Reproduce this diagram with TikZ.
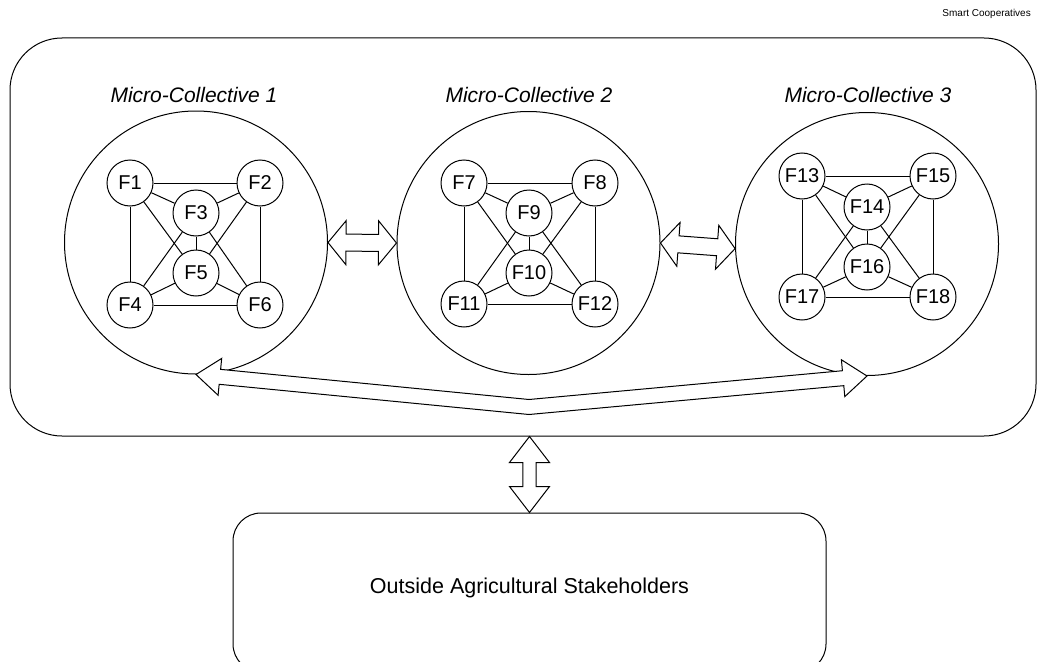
\documentclass[tikz,border=0pt]{standalone}
\usepackage{fontspec}
\setmainfont{Liberation Sans}
\usetikzlibrary{calc}

% Straight double-headed block arrow between two named points:
% #1, #2 tips; #3 head length; #4 head half-width; #5 shaft half-width
\newcommand{\dblblockarrow}[5]{%
  \draw[blockarrow] (#1)
    -- ($(#1)!#3!(#2)!#4!90:(#2)$)
    -- ($(#1)!#3!(#2)!#5!90:(#2)$)
    -- ($(#2)!#3!(#1)!#5!-90:(#1)$)
    -- ($(#2)!#3!(#1)!#4!-90:(#1)$)
    -- (#2)
    -- ($(#2)!#3!(#1)!#4!90:(#1)$)
    -- ($(#2)!#3!(#1)!#5!90:(#1)$)
    -- ($(#1)!#3!(#2)!#5!-90:(#2)$)
    -- ($(#1)!#3!(#2)!#4!-90:(#2)$)
    -- cycle;}

\begin{document}
\begin{tikzpicture}[x=1pt,y=-1pt,
  farmer/.style={circle, draw, line width=1pt, minimum size=46pt, inner sep=0pt,
    font=\fontsize{20}{22}\selectfont},
  ring/.style={circle, draw, line width=1pt, minimum size=263pt, inner sep=0pt},
  ringlabel/.style={font=\fontsize{21}{23}\selectfont\itshape, inner sep=0pt},
  link/.style={line width=1pt},
  blockarrow/.style={draw, fill=white, line width=1pt, line join=miter},
  panel/.style={draw, line width=1pt, inner sep=0pt},
]
\useasboundingbox (0,0) rectangle (1038,661);
\clip (0,0) rectangle (1038,661);

% cooperative frame and its caption
\node[panel, rounded corners=52pt, minimum width=1026pt, minimum height=398pt]
  (big) at (523,237) {};
\node[anchor=east, inner sep=0pt, font=\fontsize{10}{12}\selectfont]
  (coop) at (1031,14) {Smart Cooperatives};

% micro-collectives
\node[ring] (r1) at (196,242.5) {};
\node[ring] (r2) at (528.5,243) {};
\node[ring] (r3) at (867,244) {};
\node[ringlabel] (l1) at (194,95) {Micro-Collective 1};
\node[ringlabel] (l2) at (529,95) {Micro-Collective 2};
\node[ringlabel] (l3) at (868,95) {Micro-Collective 3};

% farmers
\node[farmer] (f1) at (130,183) {F1};
\node[farmer] (f2) at (260,183) {F2};
\node[farmer] (f3) at (196,213) {F3};
\node[farmer] (f5) at (196,273) {F5};
\node[farmer] (f4) at (130,305) {F4};
\node[farmer] (f6) at (260,305) {F6};

\node[farmer] (f7)  at (464,183) {F7};
\node[farmer] (f8)  at (595,183) {F8};
\node[farmer] (f9)  at (529,213) {F9};
\node[farmer] (f10) at (529,273) {F10};
\node[farmer] (f11) at (464,304) {F11};
\node[farmer] (f12) at (595,304) {F12};

\node[farmer] (f13) at (802,176) {F13};
\node[farmer] (f15) at (933,176) {F15};
\node[farmer] (f14) at (867,207) {F14};
\node[farmer] (f16) at (867,267) {F16};
\node[farmer] (f17) at (802,297) {F17};
\node[farmer] (f18) at (933,297) {F18};

% links inside each collective (top-left, top-right, upper, lower, bottom-left, bottom-right)
\foreach \ca/\cb/\cc/\cd/\ce/\cf in {1/2/3/5/4/6, 7/8/9/10/11/12, 13/15/14/16/17/18}{
  \draw[link] (f\ca) -- (f\cb);
  \draw[link] (f\ca) -- (f\cc);
  \draw[link] (f\cb) -- (f\cc);
  \draw[link] (f\ca) -- (f\ce);
  \draw[link] (f\cb) -- (f\cf);
  \draw[link] (f\ca) -- (f\cd);
  \draw[link] (f\cb) -- (f\cd);
  \draw[link] (f\cc) -- (f\ce);
  \draw[link] (f\cc) -- (f\cf);
  \draw[link] (f\cc) -- (f\cd);
  \draw[link] (f\ce) -- (f\cd);
  \draw[link] (f\cd) -- (f\cf);
  \draw[link] (f\ce) -- (f\cf);
}

% outside stakeholders
\node[panel, rounded corners=28pt, minimum width=593pt, minimum height=159pt]
  (outside) at (529.5,592.5) {};
\node[font=\fontsize{21.5}{24}\selectfont, inner sep=0pt] (outsidetext)
  at (529.5,588) {Outside Agricultural Stakeholders};

% exchanges between collectives
\dblblockarrow{r1.east}{r2.west}{18pt}{22pt}{8.5pt}
\coordinate (r3in) at (r3.182);
\dblblockarrow{r2.east}{r3in}{18pt}{22pt}{8.5pt}

% exchange between the first and last collective, bending below the middle one
\coordinate (bend) at (529,407);
\draw[blockarrow] (r1.south)
  -- ($(r1.south)!24pt!(bend)!18.5pt!90:(bend)$)
  -- ($(r1.south)!24pt!(bend)!7.5pt!90:(bend)$)
  -- ($(bend)+(0,-7.5)$)
  -- ($(r3.south)!24pt!(bend)!7.5pt!-90:(bend)$)
  -- ($(r3.south)!24pt!(bend)!18.5pt!-90:(bend)$)
  -- (r3.south)
  -- ($(r3.south)!24pt!(bend)!18.5pt!90:(bend)$)
  -- ($(r3.south)!24pt!(bend)!7.5pt!90:(bend)$)
  -- ($(bend)+(0,7.5)$)
  -- ($(r1.south)!24pt!(bend)!7.5pt!-90:(bend)$)
  -- ($(r1.south)!24pt!(bend)!18.5pt!-90:(bend)$)
  -- cycle;

% cooperative <-> outside stakeholders
\coordinate (coopbottom) at (outside.north |- big.south);
\dblblockarrow{coopbottom}{outside.north}{26pt}{20pt}{6.7pt}

\end{tikzpicture}
\end{document}
